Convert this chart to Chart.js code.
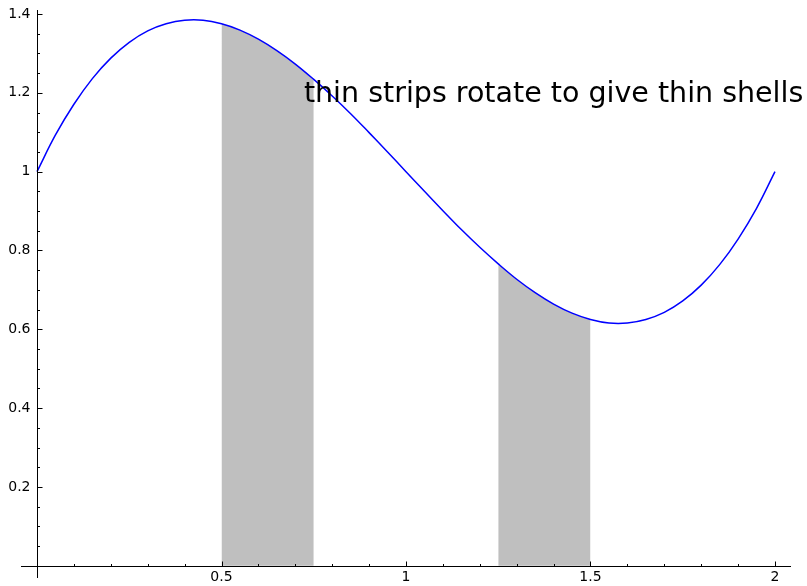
<!DOCTYPE html>
<html>
<head>
<meta charset="utf-8">
<script src="https://cdn.jsdelivr.net/npm/chart.js@4.4.0/dist/chart.umd.min.js"></script>
<style>
  html, body { margin: 0; padding: 0; background: #fff; }
  #wrap { width: 807px; height: 586px; }
</style>
</head>
<body>
<div id="wrap"><canvas id="shells"></canvas></div>
<script>
// curve
const xValues = [0, 0.05, 0.1, 0.15, 0.2, 0.25, 0.3, 0.35, 0.4, 0.45, 0.5,
  0.55, 0.6, 0.65, 0.7, 0.75, 0.8, 0.85, 0.9, 0.95, 1,
  1.05, 1.1, 1.15, 1.2, 1.25, 1.3, 1.35, 1.4, 1.45, 1.5,
  1.55, 1.6, 1.65, 1.7, 1.75, 1.8, 1.85, 1.9, 1.95, 2];
const yValues = [1.000, 1.093, 1.171, 1.236, 1.288, 1.328, 1.357, 1.375, 1.384, 1.384, 1.375,
  1.359, 1.336, 1.307, 1.273, 1.234, 1.192, 1.147, 1.099, 1.050, 1.000,
  0.950, 0.901, 0.853, 0.808, 0.766, 0.727, 0.693, 0.664, 0.641, 0.625,
  0.616, 0.616, 0.625, 0.643, 0.672, 0.712, 0.764, 0.829, 0.907, 1.000];

// shaded strips (x from, x to)
const stripRanges = [[0.5, 0.75], [1.25, 1.5]];

const xMajorTicks = [0.5, 1, 1.5, 2];
const xTickLabels = ['0.5', '1', '1.5', '2'];
const xMinorTicks = [0.1, 0.2, 0.3, 0.4, 0.6, 0.7, 0.8, 0.9, 1.1, 1.2, 1.3, 1.4,
  1.6, 1.7, 1.8, 1.9];
const yMajorTicks = [0, 0.2, 0.4, 0.6, 0.8, 1, 1.2, 1.4];
const yTickLabels = ['', '0.2', '0.4', '0.6', '0.8', '1', '1.2', '1.4'];
const yMinorTicks = [0.05, 0.1, 0.15, 0.25, 0.3, 0.35, 0.45, 0.5, 0.55, 0.65, 0.7, 0.75,
  0.85, 0.9, 0.95, 1.05, 1.1, 1.15, 1.25, 1.3, 1.35];

const noteText = 'thin strips rotate to give thin shells';
const noteAt = [1.4, 1.2];

const curvePoints = xValues.map((x, i) => ({x: x, y: yValues[i]}));

const stripSets = stripRanges.map(r => ({
  data: curvePoints.filter(p => p.x >= r[0] - 1e-9 && p.x <= r[1] + 1e-9),
  borderWidth: 0,
  pointRadius: 0,
  backgroundColor: '#bfbfbf',
  fill: 'origin',
  tension: 0.4
}));

const sageAxes = {
  id: 'sageAxes',
  afterDatasetsDraw(chart) {
    const ctx = chart.ctx;
    const area = chart.chartArea;
    const xs = chart.scales.x, ys = chart.scales.y;
    const x0 = Math.round(xs.getPixelForValue(0)) + 0.5;
    const y0 = Math.round(ys.getPixelForValue(0)) + 0.5;
    ctx.save();
    ctx.strokeStyle = '#000';
    ctx.lineWidth = 1;
    ctx.beginPath();
    ctx.moveTo(area.left, y0);
    ctx.lineTo(area.right, y0);
    ctx.moveTo(x0, area.top);
    ctx.lineTo(x0, area.bottom);
    xMajorTicks.forEach(t => {
      const px = Math.round(xs.getPixelForValue(t)) + 0.5;
      ctx.moveTo(px, y0);
      ctx.lineTo(px, y0 - 5);
    });
    xMinorTicks.forEach(t => {
      const px = Math.round(xs.getPixelForValue(t)) + 0.5;
      ctx.moveTo(px, y0);
      ctx.lineTo(px, y0 - 2.5);
    });
    yMajorTicks.forEach(t => {
      const py = Math.round(ys.getPixelForValue(t)) + 0.5;
      ctx.moveTo(x0, py);
      ctx.lineTo(x0 + 5, py);
    });
    yMinorTicks.forEach(t => {
      const py = Math.round(ys.getPixelForValue(t)) + 0.5;
      ctx.moveTo(x0, py);
      ctx.lineTo(x0 + 2.5, py);
    });
    ctx.stroke();

    ctx.fillStyle = '#000';
    ctx.font = '14px "DejaVu Sans"';
    ctx.textAlign = 'center';
    ctx.textBaseline = 'top';
    xMajorTicks.forEach((t, i) => {
      ctx.fillText(xTickLabels[i], xs.getPixelForValue(t), y0 + 4);
    });
    ctx.textAlign = 'right';
    ctx.textBaseline = 'middle';
    yMajorTicks.forEach((t, i) => {
      if (yTickLabels[i]) ctx.fillText(yTickLabels[i], x0 - 7, ys.getPixelForValue(t));
    });

    // the note sits on top of everything
    ctx.font = '28.5px "DejaVu Sans"';
    ctx.textAlign = 'center';
    ctx.textBaseline = 'middle';
    ctx.fillText(noteText, xs.getPixelForValue(noteAt[0]), ys.getPixelForValue(noteAt[1]) + 2);
    ctx.restore();
  }
};

new Chart(document.getElementById('shells'), {
  type: 'line',
  data: {
    datasets: [{
      data: curvePoints,
      borderColor: '#0000ff',
      borderWidth: 1.5,
      pointRadius: 0,
      fill: false,
      tension: 0.4
    }].concat(stripSets)
  },
  options: {
    responsive: true,
    maintainAspectRatio: false,
    animation: false,
    layout: {padding: {left: 21, top: 10, right: 16, bottom: 8}},
    plugins: {legend: {display: false}, tooltip: {enabled: false}},
    scales: {
      x: {type: 'linear', min: -0.0434, max: 2.0434, display: false},
      y: {type: 'linear', min: -0.031, max: 1.4101, display: false}
    }
  },
  plugins: [sageAxes]
});
</script>
</body>
</html>
